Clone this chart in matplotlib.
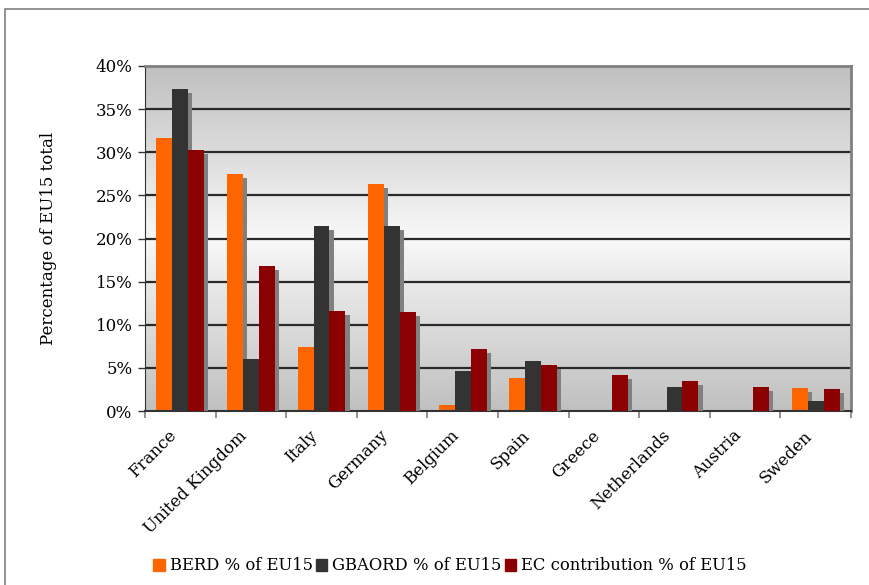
import numpy as np
import matplotlib.pyplot as plt
from matplotlib.colors import LinearSegmentedColormap
from matplotlib.patches import Rectangle

countries = ["France", "United Kingdom", "Italy", "Germany", "Belgium",
             "Spain", "Greece", "Netherlands", "Austria", "Sweden"]
berd = [31.7, 27.5, 7.4, 26.3, 0.7, 3.8, 0.0, 0.05, 0.0, 2.7]
gbaord = [37.3, 6.0, 21.4, 21.4, 4.6, 5.8, 0.1, 2.8, 0.1, 1.2]
ec_contrib = [30.3, 16.8, 11.6, 11.5, 7.2, 5.3, 4.2, 3.5, 2.8, 2.6]
series_names = ["BERD % of EU15", "GBAORD % of EU15", "EC contribution % of EU15"]
colors = ["#ff6600", "#333333", "#8b0000"]

serif = "DejaVu Serif"

fig = plt.figure(figsize=(8.69, 5.85), dpi=100)
ax = fig.add_axes([145/869, 1-411/585, (851-145)/869, (411-66)/585])

# outer frame of the chart object
fig.patches.append(Rectangle((5/869, -0.1), 1.0, 1-9/585+0.1, transform=fig.transFigure,
                             fill=False, ec="#7f7f7f", lw=1.2))

# vertical grey-white-grey background
cmap = LinearSegmentedColormap.from_list("bg", ["#c0c0c0", "#f8f8f8", "#c0c0c0"])
grad = np.linspace(0, 1, 256).reshape(-1, 1)
ax.imshow(grad, cmap=cmap, aspect="auto", extent=(-0.5, 9.5, 0, 40), zorder=0)

x = np.arange(len(countries))
w = 0.2266
dx = 0.057   # shadow offset
dy = 0.46
for k, (vals, c) in enumerate(zip([berd, gbaord, ec_contrib], colors)):
    pos = x + (k - 1) * w
    shadow = np.maximum(np.array(vals) - dy, 0)
    ax.bar(pos + dx, shadow, width=w, color="#808080", zorder=2 + k)
    ax.bar(pos, vals, width=w, color=c, zorder=2.5 + k, label=series_names[k])

for yv in range(5, 40, 5):
    ax.axhline(yv, color="#2a2a2a", lw=1.6, zorder=1)

ax.set_xlim(-0.5, 9.5)
ax.set_ylim(0, 40)
ax.set_yticks(range(0, 41, 5))
ax.set_yticklabels([f"{v}%" for v in range(0, 41, 5)], fontsize=12, family=serif)
# labels hang slightly left of each group centre
ax.set_xticks(x - 0.09)
ax.set_xticklabels(countries, rotation=45, ha="right", va="center", rotation_mode="anchor",
                   fontsize=12, family=serif)
ax.tick_params(axis="x", length=0, pad=16)
ax.set_xticks(np.arange(-0.5, 10, 1), minor=True)
ax.tick_params(axis="x", which="minor", length=5, color="#808080", width=1.2)
ax.tick_params(axis="y", length=5, width=1, color="#333333", pad=4)
ax.set_ylabel("Percentage of EU15 total", fontsize=12, family=serif, labelpad=28)

for side in ["top", "right"]:
    ax.spines[side].set_color("#808080")
    ax.spines[side].set_linewidth(2)
ax.spines["left"].set_color("#333333")
ax.spines["bottom"].set_color("#333333")
ax.spines["bottom"].set_linewidth(1.5)

handles = [Rectangle((0, 0), 1, 1, color=c) for c in colors]
fig.legend(handles, series_names, loc="center", bbox_to_anchor=(450/869, 1-566/585),
           ncol=3, frameon=False, handlelength=0.7, handleheight=0.7, handletextpad=0.3,
           columnspacing=0.2, prop={"family": serif, "size": 11.8})

fig.savefig("out.png", dpi=100)
